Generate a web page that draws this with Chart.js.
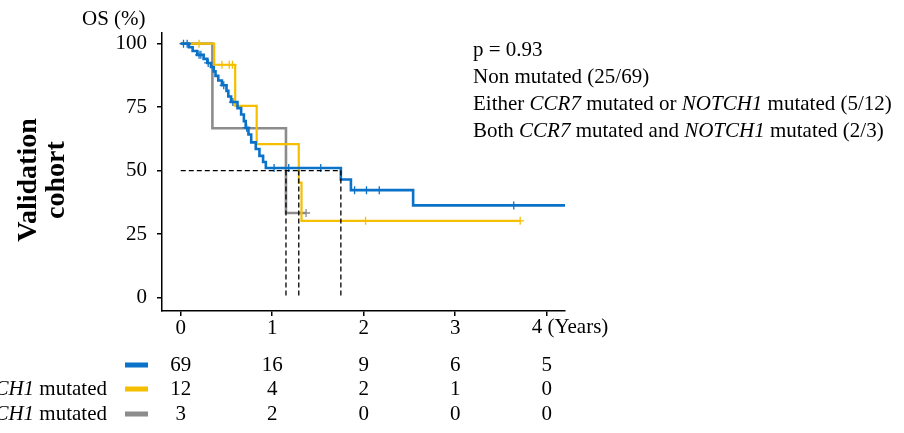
<!DOCTYPE html>
<html lang="en">
<head>
  <meta charset="UTF-8">
  <title>Validation cohort OS</title>
  <script src="https://cdn.jsdelivr.net/npm/chart.js"></script>
  <style>
    body { margin: 0; background: #fff; }
    #wrap { width: 904px; height: 433px; }
  </style>
</head>
<body>
  <div id="wrap"><canvas id="osChart" width="904" height="433"></canvas></div>

  <script>
    // ---- data ----
    const xTicks = [0, 1, 2, 3, 4];
    const yTicks = [0, 25, 50, 75, 100];
    const groupNames = ['Non mutated', 'Either CCR7 mutated or NOTCH1 mutated', 'Both CCR7 mutated and NOTCH1 mutated'];
    const eventLabels = ['25/69', '5/12', '2/3'];
    const groupColors = ['#0a72c8', '#f5bf00', '#8c8c8c'];
    const pValue = 'p = 0.93';

    // Kaplan-Meier steps (years, OS %)
    const nonMutTimes = [0, 0.09, 0.13, 0.18, 0.25, 0.29, 0.33, 0.36, 0.38, 0.41, 0.45, 0.50, 0.52, 0.55, 0.62, 0.66, 0.69, 0.71, 0.74, 0.77, 0.82, 0.86, 0.90, 0.93, 1.75, 1.86, 2.54, 4.2];
    const nonMutSurv  = [100, 98.6, 97.1, 95.6, 94.0, 92.4, 90.8, 89.1, 87.3, 85.5, 83.6, 81.4, 79.2, 77.0, 74.6, 72.1, 69.5, 66.9, 64.2, 61.1, 58.5, 55.8, 53.4, 51.0, 46.5, 42.3, 36.3, 36.3];
    const nonMutCensor = [0.03, 0.07, 0.20, 0.22, 0.30, 0.47, 0.57, 0.72, 1.02, 1.18, 1.53, 1.90, 2.03, 2.17, 3.64];

    const eitherTimes = [0, 0.365, 0.595, 0.83, 1.29, 1.32, 3.71];
    const eitherSurv  = [100, 91.7, 75.5, 60.4, 45.3, 30.2, 30.2];
    const eitherCensor = [0.20, 0.45, 0.53, 0.565, 2.02, 3.71];

    const bothTimes = [0, 0.346, 1.15, 1.37];
    const bothSurv  = [100, 66.7, 33.3, 33.3];
    const bothCensor = [1.37];

    const medianTimes = [1.15, 1.29, 1.75];

    const atRisk = [
      [69, 16, 9, 6, 5],
      [12, 4, 2, 1, 0],
      [3, 2, 0, 0, 0]
    ];

    const SERIF = "'Liberation Serif', 'Times New Roman', serif";
    const FS = 21;
    const groups = [
      { times: nonMutTimes, surv: nonMutSurv, censor: nonMutCensor, width: 2.6 },
      { times: eitherTimes, surv: eitherSurv, censor: eitherCensor, width: 2.2 },
      { times: bothTimes, surv: bothSurv, censor: bothCensor, width: 2.6 }
    ];

    function survAt(g, t) {
      let s = g.surv[0];
      for (let i = 0; i < g.times.length; i++) {
        if (g.times[i] <= t) s = g.surv[i];
      }
      return s;
    }

    const datasets = [];
    // dashed median guides
    const dash = { borderColor: '#000', borderWidth: 1.3, borderDash: [5, 3], pointRadius: 0, showLine: true, fill: false };
    datasets.push(Object.assign({ data: [{ x: 0, y: 50 }, { x: Math.max(...medianTimes), y: 50 }] }, dash));
    medianTimes.forEach(m => {
      datasets.push(Object.assign({ data: [{ x: m, y: 50 }, { x: m, y: 0 }] }, dash));
    });

    groups.forEach((g, i) => {
      datasets.push({
        data: g.censor.map(t => ({ x: t, y: survAt(g, t) })),
        showLine: false,
        pointStyle: 'cross',
        pointRadius: 4,
        pointBorderWidth: 1.3,
        pointBorderColor: groupColors[i],
        pointBackgroundColor: groupColors[i]
      });
      datasets.push({
        data: g.times.map((t, k) => ({ x: t, y: g.surv[k] })),
        showLine: true,
        stepped: 'before',
        borderColor: groupColors[i],
        borderWidth: g.width,
        pointRadius: 0,
        fill: false
      });
    });

    // text with italic gene names
    function richWidth(ctx, text, size) {
      let w = 0;
      text.split(/(CCR7|NOTCH1)/).forEach(part => {
        const it = part === 'CCR7' || part === 'NOTCH1';
        ctx.font = (it ? 'italic ' : '') + size + 'px ' + SERIF;
        w += ctx.measureText(part).width;
      });
      return w;
    }
    function drawRich(ctx, text, x, y, size) {
      text.split(/(CCR7|NOTCH1)/).forEach(part => {
        const it = part === 'CCR7' || part === 'NOTCH1';
        ctx.font = (it ? 'italic ' : '') + size + 'px ' + SERIF;
        ctx.fillText(part, x, y);
        x += ctx.measureText(part).width;
      });
    }

    const extras = {
      id: 'extras',
      afterDraw(chart) {
        const ctx = chart.ctx;
        const xs = chart.scales.x;
        ctx.save();
        ctx.fillStyle = '#000';
        ctx.textBaseline = 'middle';
        ctx.textAlign = 'left';

        ctx.font = FS + 'px ' + SERIF;
        ctx.fillText('OS (%)', 82, 19);
        ctx.fillText('4 (Years)', xs.getPixelForValue(4) - 15, 327);

        // legend block
        ctx.fillText(pValue, 473, 50);
        groupNames.forEach((name, i) => {
          drawRich(ctx, name + ' (' + eventLabels[i] + ')', 473, 77 + i * 27, FS);
        });

        // rotated cohort label
        ctx.font = 'bold 28px ' + SERIF;
        ctx.textAlign = 'center';
        [['Validation', 29], ['cohort', 57]].forEach(([txt, x]) => {
          ctx.save();
          ctx.translate(x, 180);
          ctx.rotate(-Math.PI / 2);
          ctx.fillText(txt, 0, 0);
          ctx.restore();
        });

        // number at risk table
        const rowY = [365, 389, 414];
        atRisk.forEach((row, i) => {
          if (i > 0) {
            ctx.textAlign = 'left';
            const w = richWidth(ctx, groupNames[i], FS);
            drawRich(ctx, groupNames[i], 107 - w, rowY[i], FS);
          }
          ctx.fillStyle = groupColors[i];
          ctx.fillRect(125, rowY[i] - 2.5, 23, 5);
          ctx.fillStyle = '#000';
          ctx.font = FS + 'px ' + SERIF;
          ctx.textAlign = 'center';
          row.forEach((n, k) => {
            ctx.fillText(String(n), xs.getPixelForValue(xTicks[k]), rowY[i]);
          });
        });
        ctx.restore();
      }
    };

    const tickFont = { family: SERIF, size: FS };

    new Chart(document.getElementById('osChart'), {
      type: 'scatter',
      data: { datasets: datasets },
      options: {
        responsive: false,
        animation: false,
        events: [],
        layout: { padding: { left: 0, top: 33, right: 339, bottom: 92 } },
        plugins: { legend: { display: false }, tooltip: { enabled: false } },
        scales: {
          x: {
            type: 'linear',
            min: -0.205,
            max: 4.2,
            afterBuildTicks: s => { s.ticks = xTicks.map(v => ({ value: v })); },
            afterFit: s => { s.height = 30; },
            ticks: {
              color: '#000',
              font: tickFont,
              padding: 0,
              callback: v => (v === 4 ? '' : String(v))
            },
            grid: { drawOnChartArea: false, drawTicks: true, tickLength: 5, color: '#000', lineWidth: 1.5 },
            border: { display: true, color: '#000', width: 1.5 }
          },
          y: {
            type: 'linear',
            min: -5.3,
            max: 104.2,
            afterBuildTicks: s => { s.ticks = yTicks.map(v => ({ value: v })); },
            afterFit: s => { s.width = 162; },
            ticks: { color: '#000', font: tickFont, padding: 10 },
            grid: { drawOnChartArea: false, drawTicks: true, tickLength: 5, color: '#000', lineWidth: 1.5 },
            border: { display: true, color: '#000', width: 1.5 }
          }
        }
      },
      plugins: [extras]
    });
  </script>
</body>
</html>
